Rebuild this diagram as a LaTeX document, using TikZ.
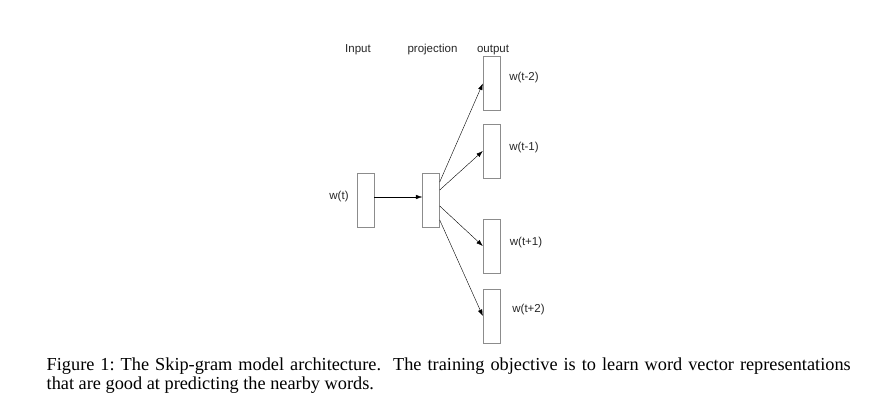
\documentclass[tikz,border=0pt]{standalone}
\usepackage{fontspec}
\setmainfont{Liberation Serif}
\setsansfont{Liberation Sans}
\usepackage{tikz}
\usetikzlibrary{arrows.meta,calc}

\tikzset{
  layer/.style={draw=black!45, minimum width=17pt, minimum height=54pt, inner sep=0pt},
  lbl/.style={font=\sffamily\fontsize{11.5}{13}\selectfont, text=black!85, inner sep=0pt},
  link/.style={-{Latex[length=6.5pt,width=4.5pt]}, black}
}

\begin{document}
\begin{tikzpicture}[x=1pt, y=-1pt]
\useasboundingbox (0,0) rectangle (874,407);

% Column titles
\node[lbl, anchor=base] (tin) at (358,52) {Input};
\node[lbl, anchor=base] (tproj) at (432.5,52) {projection};
\node[lbl, anchor=base] (tout) at (493,52) {output};

% Layers
\node[layer] (in) at (365.5,200) {};
\node[layer] (proj) at (431,200) {};
\node[layer] (om2) at (491.5,83.5) {};
\node[layer] (om1) at (491.5,151) {};
\node[layer] (op1) at (491.5,246) {};
\node[layer] (op2) at (491.5,316) {};

% Word labels
\node[lbl] (win) at (339,197) {w(t)};
\node[lbl] (wm2) at (524,78) {w(t-2)};
\node[lbl] (wm1) at (524,148) {w(t-1)};
\node[lbl] (wp1) at (526,243) {w(t+1)};
\node[lbl] (wp2) at (528.5,310) {w(t+2)};

% Connections
\draw[link] ($(in.east)+(0,-3)$) -- ($(proj.west)+(0,-3)$);
\draw[link] ($(proj.east)+(0,-18)$) -- (om2.west);
\draw[link] ($(proj.east)+(0,-10)$) -- (om1.west);
\draw[link] ($(proj.east)+(0,6)$) -- (op1.west);
\draw[link] ($(proj.east)+(0,20)$) -- (op2.west);

% Caption
\node[anchor=base west, inner sep=0pt, text width=804pt, align=justify,
      font=\fontsize{18.3}{18.8}\selectfont] (cap) at (46.5,370.3)
  {Figure 1:\ The Skip-gram model architecture.\ \ The training objective is to learn word vector representations\linebreak that are good at predicting the nearby words.};
\end{tikzpicture}
\end{document}
